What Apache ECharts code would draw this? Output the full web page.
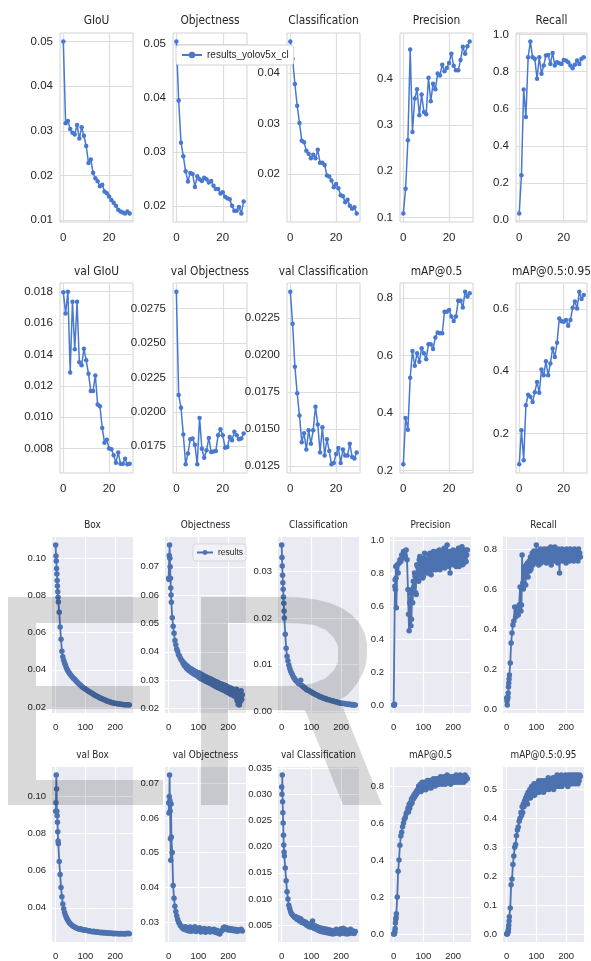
<!DOCTYPE html>
<html><head><meta charset="utf-8">
<script src="https://cdn.jsdelivr.net/npm/echarts@6/dist/echarts.min.js"></script>
<style>html,body{margin:0;padding:0;background:#fff}#c{width:591px;height:961px}</style>
</head><body><div id="c"></div>
<script>
// ---------- top group (epochs 0..29) ----------
const topEpochs = [0,1,2,3,4,5,6,7,8,9,10,11,12,13,14,15,16,17,18,19,20,21,22,23,24,25,26,27,28,29];
const giou = [0.0500,0.0317,0.0322,0.0304,0.0296,0.0292,0.0313,0.0283,0.0308,0.0289,0.0266,0.0228,0.0236,0.0206,0.0194,0.0187,0.0176,0.0179,0.0164,0.0160,0.0153,0.0145,0.0139,0.0132,0.0123,0.0119,0.0117,0.0115,0.0119,0.0115];
const objectness = [0.0504,0.0395,0.0317,0.0292,0.0264,0.0245,0.0261,0.0259,0.0235,0.0255,0.0249,0.0246,0.0252,0.0249,0.0243,0.0246,0.0237,0.0231,0.0231,0.0223,0.0225,0.0217,0.0214,0.0212,0.0200,0.0191,0.0191,0.0198,0.0186,0.0208];
const classification = [0.0462,0.0428,0.0378,0.0335,0.0301,0.0266,0.0263,0.0246,0.0240,0.0231,0.0238,0.0231,0.0248,0.0222,0.0222,0.0218,0.0197,0.0195,0.0187,0.0174,0.0180,0.0172,0.0158,0.0156,0.0144,0.0149,0.0137,0.0131,0.0134,0.0122];
const precision = [0.109,0.162,0.267,0.463,0.285,0.357,0.377,0.321,0.366,0.328,0.323,0.402,0.351,0.389,0.377,0.411,0.407,0.430,0.416,0.423,0.434,0.454,0.428,0.418,0.418,0.440,0.469,0.454,0.470,0.480];
const recall = [0.036,0.241,0.703,0.555,0.877,0.961,0.877,0.868,0.761,0.877,0.788,0.832,0.886,0.889,0.841,0.900,0.832,0.850,0.845,0.841,0.862,0.859,0.850,0.832,0.818,0.836,0.859,0.841,0.868,0.877];
const valGiou = [0.01796,0.01661,0.0180,0.01285,0.01736,0.01432,0.01736,0.0135,0.0133,0.01436,0.01362,0.01277,0.01167,0.01167,0.01266,0.0108,0.0107,0.00931,0.00837,0.00856,0.0080,0.00795,0.00757,0.0071,0.00774,0.00703,0.00703,0.00735,0.00699,0.00703];
const valObjectness = [0.02872,0.02122,0.0203,0.01835,0.01619,0.01697,0.01801,0.01806,0.01762,0.01619,0.01956,0.01733,0.01667,0.01721,0.01811,0.01708,0.01713,0.01716,0.0183,0.01874,0.0183,0.0174,0.01745,0.01818,0.01794,0.01855,0.0183,0.01801,0.01806,0.01842];
const valClassification = [0.02427,0.0221,0.0192,0.0174,0.0159,0.0141,0.0147,0.0136,0.0149,0.0140,0.0149,0.0165,0.0153,0.0134,0.0151,0.0132,0.0143,0.0135,0.0126,0.0127,0.0133,0.0137,0.0127,0.0136,0.0132,0.0132,0.0140,0.0131,0.0130,0.0134];
const map50 = [0.221,0.383,0.342,0.523,0.616,0.565,0.608,0.579,0.626,0.608,0.587,0.640,0.640,0.623,0.663,0.681,0.678,0.678,0.753,0.753,0.759,0.736,0.721,0.736,0.791,0.791,0.768,0.823,0.806,0.817];
const map5095 = [0.101,0.211,0.114,0.291,0.325,0.318,0.301,0.333,0.366,0.331,0.406,0.387,0.432,0.387,0.425,0.473,0.446,0.492,0.570,0.561,0.559,0.565,0.546,0.565,0.604,0.624,0.602,0.656,0.632,0.645];

const topXTicks = [0,20];
const tkGiou = [0.01,0.02,0.03,0.04,0.05];
const tkObj = [0.02,0.03,0.04,0.05];
const tkCls = [0.02,0.03,0.04];
const tkPrec = [0.1,0.2,0.3,0.4];
const tkRec = [0,0.2,0.4,0.6,0.8,1.0];
const tkValGiou = [0.008,0.010,0.012,0.014,0.016,0.018];
const tkValObj = [0.0175,0.0200,0.0225,0.0250,0.0275];
const tkValCls = [0.0125,0.0150,0.0175,0.0200,0.0225];
const tkMap50 = [0.2,0.4,0.6,0.8];
const tkMap5095 = [0.2,0.4,0.6];

// ---------- bottom group ----------
// smooth curves: sampled epochs (73 points)
const botEpochs = [0,1,2,3,4,5,6,7,8,9, 12,15,18,21,24,27,30,33,36,39, 42,45,48,52,56,60,64,68,72,76, 80,84,88,92,96,100,104,108,112,116, 120,124,128,132,136,140,144,148,152,156, 160,164,168,172,176,180,184,188,192,196, 200,204,208,212,216,220,224,228,232,236, 240,244,248];
// noisy curves: denser sampled epochs (123 points)
const botEpochsDense = [0,1,2,3,4,5,6,7,8,9, 12,15,18,21,24,27,30,33,36,39,42,45,48,
 50,52,54,56,58,60,62,64,66,68,70,72,74,76,78,80,82,84,86,88,90,92,94,96,98,
 100,102,104,106,108,110,112,114,116,118,120,122,124,126,128,130,132,134,136,138,140,142,144,146,148,
 150,152,154,156,158,160,162,164,166,168,170,172,174,176,178,180,182,184,186,188,190,192,194,196,198,
 200,202,204,206,208,210,212,214,216,218,220,222,224,226,228,230,232,234,236,238,240,242,244,246,248];

const box = [.1071,.1012,.0985,.0945,.0915,.0880,.0850,.0820,.0790,.0765,
 .0710,.0630,.0565,.0500,.0470,.0452,.0437,.0424,.0410,.0400,
 .0392,.0385,.0378,.0370,.0362,.0354,.0349,.0342,.0335,.0328,
 .0322,.0317,.0311,.0305,.0301,.0297,.0293,.0287,.0283,.0280,
 .0276,.0273,.0268,.0264,.0261,.0257,.0254,.0250,.0247,.0245,
 .0242,.0239,.0236,.0233,.0231,.0229,.0227,.0225,.0223,.0221,
 .0220,.0219,.0218,.0217,.0216,.0215,.0214,.0214,.0213,.0213,
 .0212,.0213,.0211];
const obj2 = [.0660,.0655,.0740,.0777,.0730,.0700,.0660,.0625,.0600,.0575,
 .0520,.0490,.0465,.0440,.0425,.0410,.0402,.0390,.0385,.0378,.0372,.0368,.0360,
 .0362,.0352,.0358,.0348,.0352,.0342,.0350,.0338,.0346,.0334,.0342,.0332,.0340,.0328,.0338,.0326,.0335,.0322,.0333,.0320,.0330,.0318,.0328,.0315,.0325,
 .0312,.0326,.0308,.0322,.0305,.0320,.0318,.0303,.0316,.0300,.0314,.0298,.0312,.0296,.0310,.0293,.0308,.0292,.0306,.0290,.0304,.0288,.0303,.0285,.0300,
 .0283,.0298,.0280,.0296,.0278,.0294,.0276,.0292,.0274,.0290,.0272,.0288,.0270,.0286,.0268,.0285,.0266,.0283,.0264,.0282,.0262,.0280,.0259,.0278,.0257,
 .0276,.0255,.0274,.0252,.0272,.0250,.0270,.0248,.0268,.0246,.0266,.0243,.0264,.0241,.0268,.0228,.0262,.0215,.0258,.0212,.0255,.0225,.0262,.0232,.0248];
const cls2 = [.0357,.0330,.0312,.0292,.0276,.0262,.0245,.0232,.0215,.0200,
 .0165,.0135,.0118,.0108,.0099,.0092,.0086,.0082,.0078,.0074,
 .0071,.0068,.0065,.0063,.0060,.0058,.0066,.0055,.0053,.0050,
 .0049,.0046,.0045,.0044,.0042,.0041,.0039,.0038,.0036,.0035,
 .0034,.0033,.0031,.0031,.0029,.0028,.0027,.0027,.0025,.0025,
 .0024,.0023,.0022,.0022,.0021,.0020,.0020,.0019,.0018,.0018,
 .0017,.0017,.0016,.0016,.0015,.0015,.0014,.0015,.0014,.0013,
 .0014,.0013,.0013];
const prec2 = [0,0,0,0.005,0.72,0.76,0.70,0.84,0.77,0.59,
 0.85,0.80,0.86,0.88,0.87,0.91,0.89,0.93,0.92,0.90,0.94,0.88,0.70,
 0.55,0.45,0.62,0.68,0.48,0.52,0.70,0.62,0.75,0.72,0.80,0.78,0.68,0.67,0.85,0.84,0.76,0.75,0.88,0.90,0.79,0.80,0.86,0.88,0.77,
 0.78,0.89,0.92,0.81,0.83,0.87,0.88,0.80,0.84,0.91,0.80,0.92,0.85,0.79,0.88,0.90,0.82,0.93,0.84,0.86,0.90,0.82,0.87,0.93,0.84,
 0.91,0.86,0.94,0.82,0.88,0.87,0.93,0.84,0.90,0.86,0.95,0.83,0.92,0.88,0.89,0.97,0.86,0.91,0.84,0.93,0.80,0.88,0.91,0.86,0.92,
 0.94,0.85,0.90,0.87,0.93,0.84,0.92,0.89,0.86,0.95,0.84,0.90,0.93,0.87,0.88,0.96,0.85,0.92,0.86,0.93,0.89,0.94,0.87,0.91,0.94];
const rec2 = [0.055,0.04,0.02,0.05,0.06,0.08,0.11,0.13,0.15,0.17,
 0.23,0.33,0.38,0.42,0.44,0.51,0.46,0.48,0.50,0.47,0.52,0.61,0.49,
 0.52,0.77,0.63,0.60,0.71,0.66,0.70,0.62,0.72,0.68,0.73,0.66,0.71,0.74,0.69,0.76,0.70,0.75,0.78,0.72,0.76,0.79,0.73,0.77,0.75,
 0.82,0.74,0.78,0.76,0.72,0.79,0.75,0.80,0.73,0.77,0.79,0.74,0.78,0.80,0.75,0.76,0.79,0.73,0.80,0.77,0.75,0.79,0.74,0.78,0.81,
 0.72,0.77,0.80,0.75,0.78,0.74,0.81,0.76,0.79,0.75,0.78,0.73,0.80,0.76,0.68,0.79,0.75,0.78,0.80,0.74,0.77,0.79,0.75,0.78,0.76,
 0.73,0.80,0.76,0.78,0.75,0.79,0.74,0.80,0.77,0.75,0.79,0.76,0.78,0.74,0.80,0.77,0.75,0.79,0.76,0.78,0.74,0.80,0.76,0.78,0.76];
const valBox = [.0920,.0965,.1115,.1040,.0920,.0895,.0860,.0810,.0760,.0745,
 .0650,.0580,.0510,.0460,.0420,.0395,.0375,.0360,.0348,.0338,
 .0330,.0322,.0316,.0310,.0305,.0300,.0297,.0293,.0290,.0288,
 .0285,.0287,.0283,.0281,.0282,.0279,.0280,.0277,.0275,.0276,
 .0273,.0272,.0274,.0270,.0271,.0268,.0270,.0267,.0266,.0268,
 .0265,.0267,.0264,.0266,.0263,.0265,.0262,.0264,.0262,.0261,
 .0263,.0260,.0262,.0261,.0259,.0262,.0260,.0261,.0259,.0262,
 .0260,.0263,.0261];
const valObj2 = [.0643,.0614,.0662,.0724,.0650,.0620,.0540,.0478,.0640,.0545,
 .0500,.0405,.0368,.0345,.0330,.0318,.0308,.0300,.0296,.0290,
 .0288,.0284,.0281,.0279,.0286,.0276,.0283,.0274,.0285,.0273,
 .0281,.0275,.0286,.0272,.0280,.0276,.0283,.0271,.0278,.0274,
 .0281,.0270,.0278,.0273,.0280,.0271,.0277,.0274,.0279,.0270,
 .0276,.0268,.0274,.0265,.0272,.0275,.0283,.0285,.0279,.0283,
 .0277,.0281,.0276,.0280,.0275,.0279,.0274,.0278,.0273,.0277,
 .0275,.0279,.0274];
const valCls2 = [.0314,.0300,.0337,.0286,.0265,.0245,.0222,.0203,.0190,.0182,
 .0159,.0135,.0114,.0100,.0088,.0082,.0076,.0072,.0070,.0068,
 .0066,.0064,.0066,.0061,.0064,.0058,.0062,.0055,.0058,.0053,
 .0056,.0050,.0053,.0047,.0051,.0046,.0058,.0044,.0049,.0042,
 .0047,.0040,.0045,.0038,.0044,.0037,.0043,.0036,.0042,.0035,
 .0041,.0034,.0040,.0033,.0039,.0034,.0042,.0035,.0040,.0033,
 .0043,.0035,.0044,.0034,.0041,.0033,.0040,.0034,.0042,.0035,
 .0039,.0034,.0038];
const map50b = [0,0,0.002,0.005,0.015,0.03,0.06,0.08,0.09,0.11,
 0.20,0.34,0.40,0.48,0.53,0.55,0.58,0.60,0.62,0.63,0.65,0.66,0.68,
 0.66,0.70,0.68,0.71,0.70,0.73,0.71,0.74,0.73,0.75,0.74,0.76,0.75,0.77,0.76,0.78,0.77,0.80,0.78,0.79,0.81,0.77,0.80,0.82,0.78,
 0.81,0.79,0.82,0.80,0.78,0.82,0.81,0.83,0.79,0.82,0.80,0.83,0.81,0.79,0.83,0.82,0.80,0.84,0.81,0.83,0.80,0.82,0.84,0.81,0.83,
 0.82,0.84,0.81,0.83,0.85,0.82,0.84,0.81,0.83,0.82,0.85,0.83,0.81,0.84,0.82,0.86,0.83,0.84,0.82,0.85,0.83,0.81,0.84,0.85,0.82,
 0.84,0.83,0.85,0.82,0.84,0.86,0.83,0.84,0.82,0.85,0.83,0.84,0.86,0.82,0.85,0.83,0.84,0.85,0.82,0.84,0.86,0.83,0.85,0.84,0.84];
const map5095b = [0,0,0.001,0.003,0.005,0.010,0.018,0.030,0.045,0.060,
 0.090,0.17,0.19,0.24,0.27,0.30,0.31,0.34,0.36,0.37,0.39,0.40,0.42,
 0.41,0.44,0.42,0.45,0.44,0.46,0.45,0.47,0.46,0.48,0.45,0.49,0.47,0.48,0.50,0.47,0.49,0.51,0.48,0.50,0.49,0.52,0.48,0.51,0.50,
 0.52,0.49,0.51,0.50,0.53,0.49,0.52,0.51,0.50,0.53,0.51,0.52,0.49,0.53,0.51,0.52,0.50,0.53,0.52,0.51,0.54,0.50,0.52,0.53,0.51,
 0.53,0.51,0.52,0.54,0.50,0.53,0.52,0.54,0.51,0.53,0.55,0.52,0.53,0.51,0.54,0.52,0.53,0.55,0.51,0.54,0.52,0.53,0.54,0.52,0.55,
 0.52,0.54,0.53,0.51,0.55,0.53,0.54,0.52,0.55,0.53,0.54,0.52,0.55,0.53,0.54,0.55,0.52,0.54,0.53,0.55,0.52,0.54,0.53,0.55,0.545];

const botXTicks = [0,100,200];
const tkBox = [0.02,0.04,0.06,0.08,0.10];
const tkObj2 = [0.02,0.03,0.04,0.05,0.06,0.07];
const tkCls2 = [0,0.01,0.02,0.03];
const tkPrec2 = [0,0.2,0.4,0.6,0.8,1.0];
const tkRec2 = [0,0.2,0.4,0.6,0.8];
const tkValBox = [0.04,0.06,0.08,0.10];
const tkValObj2 = [0.03,0.04,0.05,0.06,0.07];
const tkValCls2 = [0.005,0.010,0.015,0.020,0.025,0.030,0.035];
const tkMap50b = [0,0.2,0.4,0.6,0.8];
const tkMap5095b = [0,0.1,0.2,0.3,0.4,0.5];

// ---------- layout ----------
const LFONT = "'Liberation Sans',Arial,sans-serif";
const TFONT = "'DejaVu Sans',sans-serif";
const TXT = '#262626';
const TOP_COLOR = '#4878d0', BOT_COLOR = '#4c72b0';
const topLeft = [60,173,287,400,516], topW = [73,74,73,73,71];
const topTop = [33,283], topH = [189,190];
const botLeft = [52,165,278,390,503], botW = 81;
const botTop = [537,767], botH = [176,175];
const titleY = [21,272,525,755];

const panels = [
 {t:'GIoU', g:0,r:0,c:0, x:topEpochs, y:giou, tk:tkGiou, d:2},
 {t:'Objectness', g:0,r:0,c:1, x:topEpochs, y:objectness, tk:tkObj, d:2},
 {t:'Classification', g:0,r:0,c:2, x:topEpochs, y:classification, tk:tkCls, d:2},
 {t:'Precision', g:0,r:0,c:3, x:topEpochs, y:precision, tk:tkPrec, d:1},
 {t:'Recall', g:0,r:0,c:4, x:topEpochs, y:recall, tk:tkRec, d:1},
 {t:'val GIoU', g:0,r:1,c:0, x:topEpochs, y:valGiou, tk:tkValGiou, d:3},
 {t:'val Objectness', g:0,r:1,c:1, x:topEpochs, y:valObjectness, tk:tkValObj, d:4},
 {t:'val Classification', g:0,r:1,c:2, x:topEpochs, y:valClassification, tk:tkValCls, d:4},
 {t:'mAP@0.5', g:0,r:1,c:3, x:topEpochs, y:map50, tk:tkMap50, d:1},
 {t:'mAP@0.5:0.95', g:0,r:1,c:4, x:topEpochs, y:map5095, tk:tkMap5095, d:1},
 {t:'Box', g:1,r:0,c:0, x:botEpochs, y:box, tk:tkBox, d:2},
 {t:'Objectness', g:1,r:0,c:1, x:botEpochsDense, y:obj2, tk:tkObj2, d:2},
 {t:'Classification', g:1,r:0,c:2, x:botEpochs, y:cls2, tk:tkCls2, d:2},
 {t:'Precision', g:1,r:0,c:3, x:botEpochsDense, y:prec2, tk:tkPrec2, d:1},
 {t:'Recall', g:1,r:0,c:4, x:botEpochsDense, y:rec2, tk:tkRec2, d:1},
 {t:'val Box', g:1,r:1,c:0, x:botEpochs, y:valBox, tk:tkValBox, d:2},
 {t:'val Objectness', g:1,r:1,c:1, x:botEpochs, y:valObj2, tk:tkValObj2, d:2},
 {t:'val Classification', g:1,r:1,c:2, x:botEpochs, y:valCls2, tk:tkValCls2, d:3},
 {t:'mAP@0.5', g:1,r:1,c:3, x:botEpochsDense, y:map50b, tk:tkMap50b, d:1},
 {t:'mAP@0.5:0.95', g:1,r:1,c:4, x:botEpochsDense, y:map5095b, tk:tkMap5095b, d:1}
];

const grids = [], xAxes = [], yAxes = [], series = [], graphics = [];
panels.forEach((p, i) => {
  const isTop = p.g === 0;
  const left = isTop ? topLeft[p.c] : botLeft[p.c];
  const width = isTop ? topW[p.c] : botW;
  const top = isTop ? topTop[p.r] : botTop[p.r];
  const height = isTop ? topH[p.r] : botH[p.r];
  const xs = p.x;
  const xt = isTop ? topXTicks : botXTicks;
  const fs = isTop ? 11.5 : 9.5;
  const gridColor = isTop ? '#dddddd' : '#ffffff';
  const xr = xs[xs.length-1] - xs[0];
  const ymin = Math.min(...p.y), ymax = Math.max(...p.y), yr = ymax - ymin;
  grids.push({left, top, width, height, show:true,
    backgroundColor: isTop ? '#ffffff' : '#eaeaf2',
    borderColor: isTop ? '#d2d2d2' : 'transparent', borderWidth: isTop ? 1 : 0});
  xAxes.push({type:'value', gridIndex:i, min: xs[0]-0.05*xr, max: xs[xs.length-1]+0.05*xr,
    axisLine:{show:false}, axisTick:{show:false, customValues:xt},
    axisLabel:{customValues:xt, fontSize:fs, color:TXT, fontFamily:LFONT, margin: isTop ? 10 : 9, formatter:v=>String(v)},
    splitLine:{show:true, lineStyle:{color:gridColor, width:1.2}}});
  yAxes.push({type:'value', gridIndex:i, min: ymin-0.05*yr, max: ymax+0.05*yr,
    axisLine:{show:false}, axisTick:{show:false, customValues:p.tk},
    axisLabel:{customValues:p.tk, fontSize:fs, color:TXT, fontFamily:LFONT, margin: isTop ? 7 : 6, formatter:v=>Number(v).toFixed(p.d)},
    splitLine:{show:true, lineStyle:{color:gridColor, width:1.2}}});
  const col = isTop ? TOP_COLOR : BOT_COLOR;
  series.push({type:'line', name: isTop ? 'results_yolov5x_cl' : 'results',
    xAxisIndex:i, yAxisIndex:i, data: xs.map((e,k)=>[e, p.y[k]]),
    symbol:'circle', symbolSize: isTop ? 4.5 : 5.5, showAllSymbol:true,
    lineStyle:{color:col, width: isTop ? 1.5 : 1.8}, itemStyle:{color:col}, animation:false, silent:true});
  graphics.push({type:'text', x: left + width/2, y: titleY[p.g*2 + p.r], scaleX: isTop ? 0.82 : 0.81,
    style:{text:p.t, fill:TXT, font:(isTop?13:11)+'px '+TFONT, textAlign:'center', textVerticalAlign:'middle', align:'center', verticalAlign:'middle'}});
});

// watermark letters "E" and "R"
graphics.push({type:'polygon', z:100, silent:true,
  shape:{points:[[8,597],[158,597],[158,623],[36,623],[36,686],[150,686],[150,709],[36,709],[36,780],[163,780],[163,805],[8,805]]},
  style:{fill:'rgba(0,0,0,0.15)'}});
graphics.push({type:'polygon', z:100, silent:true,
  shape:{points:[[201,597],[283,597],[300,597.5],[316,599.5],[330,603],[342,608],[352,615],[360,624],[365,634],[367,644],[367,654],[366,664],[363,673],[358,682],[352,690],[346,696],[340,700],[382,805],[343,805],[305,710],[228,710],[228,686],[283,686],[300,685.5],[314,683],[326,678],[334,670],[338,662],[338,654],[338,646],[334,638],[326,630],[314,625],[300,623.5],[283,623],[228,623],[228,686],[228,805],[201,805]]},
  style:{fill:'rgba(0,0,0,0.15)'}});

const chart = echarts.init(document.getElementById('c'), null, {renderer:'canvas'});
chart.setOption({
  backgroundColor:'#ffffff',
  animation:false,
  grid: grids, xAxis: xAxes, yAxis: yAxes, series,
  legend: [
    {data:['results_yolov5x_cl'], left:176, top:45, itemWidth:20, itemHeight:8, padding:[5,5,5,5],
     backgroundColor:'#ffffff', borderColor:'#d2d2d2', borderWidth:1, borderRadius:3, selectedMode:false,
     textStyle:{fontSize:10, color:TXT, fontFamily:LFONT}},
    {data:['results'], left:193, top:544, itemWidth:16, itemHeight:6, itemGap:4, padding:[4,3,4,3],
     backgroundColor:'#f2f2f6', borderColor:'#d8d8de', borderWidth:1, borderRadius:3, selectedMode:false,
     textStyle:{fontSize:8.5, color:TXT, fontFamily:LFONT}}
  ],
  graphic: graphics
});
</script></body></html>
